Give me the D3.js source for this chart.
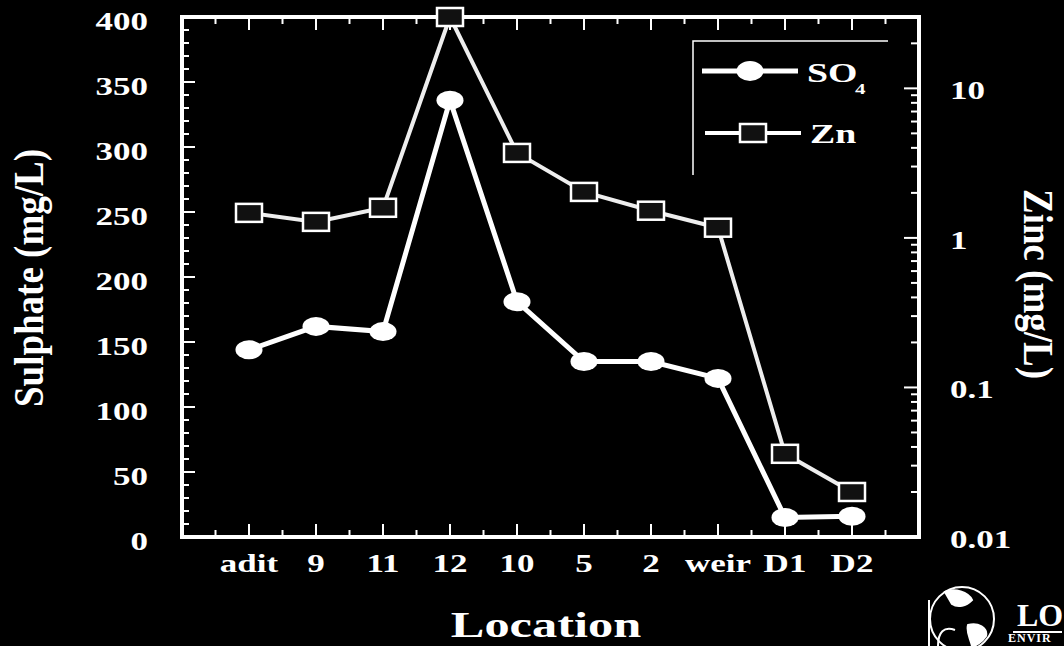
<!DOCTYPE html>
<html>
<head>
<meta charset="utf-8">
<script src="https://cdn.jsdelivr.net/npm/d3@7"></script>
<style>
  body { margin: 0; background: #000; }
  text { font-family: "Liberation Serif", "DejaVu Serif", serif; font-weight: bold; fill: #fff; }
</style>
</head>
<body>
<div id="chart-area"></div>
<script>
var locations = ["adit", "9", "11", "12", "10", "5", "2", "weir", "D1", "D2"];
var sulphate = [144, 162, 158, 336, 181, 135, 135, 122, 15, 16];
var zinc = [1.47, 1.28, 1.59, 30, 3.7, 2.03, 1.52, 1.17, 0.036, 0.02];
var leftTicks = [0, 50, 100, 150, 200, 250, 300, 350, 400];
var rightTicks = [0.01, 0.1, 1, 10];
var rightTickLabels = ["0.01", "0.1", "1", "10"];

var width = 1064, height = 646;
var plot = {left: 182, right: 919, top: 17, bottom: 537};
var stretch = 1.4;

var svg = d3.select("#chart-area")
  .append("svg")
  .attr("width", width)
  .attr("height", height)
  .style("display", "block");

svg.append("rect").attr("width", width).attr("height", height).attr("fill", "#000");

var xScale = d3.scaleLinear().domain([0, locations.length + 1]).range([plot.left, plot.right]);
var yScale = d3.scaleLinear().domain([0, 400]).range([plot.bottom, plot.top]);
var zScale = d3.scaleLog().domain([0.01, 30]).range([plot.bottom, plot.top]);

// stretched text helper (the scan is wider than tall)
function label(g, x, y, str, size, anchor) {
  return g.append("text")
    .attr("transform", "translate(" + x + "," + y + ") scale(" + stretch + ",1)")
    .attr("font-size", size + "px")
    .attr("text-anchor", anchor || "middle")
    .text(str);
}

// ticks
var ticks = svg.append("g").attr("stroke", "#fff").attr("stroke-width", 2);

d3.range(0, 401, 10).forEach(function(v) {
  var len = v % 50 == 0 ? 13 : 7;
  ticks.append("line").attr("x1", plot.left).attr("x2", plot.left + len)
    .attr("y1", yScale(v)).attr("y2", yScale(v));
});

d3.range(1, locations.length * 2 + 2).forEach(function(i) {
  var v = i / 2;
  var len = i % 2 == 0 ? 13 : 7;
  ticks.append("line").attr("x1", xScale(v)).attr("x2", xScale(v))
    .attr("y1", plot.bottom).attr("y2", plot.bottom - len);
  ticks.append("line").attr("x1", xScale(v)).attr("x2", xScale(v))
    .attr("y1", plot.top).attr("y2", plot.top + len);
});

zScale.ticks().forEach(function(v) {
  var major = rightTicks.indexOf(v) >= 0;
  var len = major ? 15 : 8;
  ticks.append("line").attr("x1", plot.right).attr("x2", plot.right - len)
    .attr("y1", zScale(v)).attr("y2", zScale(v));
});

// frame
svg.append("rect")
  .attr("x", plot.left).attr("y", plot.top)
  .attr("width", plot.right - plot.left).attr("height", plot.bottom - plot.top)
  .attr("fill", "none").attr("stroke", "#fff").attr("stroke-width", 4);

// tick labels
leftTicks.forEach(function(v) {
  label(svg, 148, yScale(v) + 13, v, 25, "end");
});
locations.forEach(function(d, i) {
  label(svg, xScale(i + 1), 572, d, 25);
});
rightTicks.forEach(function(v, i) {
  label(svg, 950, zScale(v) + 11, rightTickLabels[i], 25, "start");
});

// axis titles
label(svg, 546, 637, "Location", 36);
svg.append("text")
  .attr("transform", "translate(43,278) scale(1.15,1) rotate(-90)")
  .attr("font-size", "37px").attr("text-anchor", "middle")
  .text("Sulphate (mg/L)");
svg.append("text")
  .attr("transform", "translate(1024,284) scale(1.12,1) rotate(90)")
  .attr("font-size", "37px").attr("text-anchor", "middle")
  .text("Zinc (mg/L)");

// series
var so4Line = d3.line().x(function(d, i) { return xScale(i + 1); }).y(function(d) { return yScale(d); });
var znLine = d3.line().x(function(d, i) { return xScale(i + 1); }).y(function(d) { return zScale(d); });

svg.append("path").datum(zinc).attr("d", znLine)
  .attr("fill", "none").attr("stroke", "#eee").attr("stroke-width", 4);
svg.append("path").datum(sulphate).attr("d", so4Line)
  .attr("fill", "none").attr("stroke", "#fff").attr("stroke-width", 5);

svg.selectAll("rect.zn").data(zinc).enter().append("rect")
  .attr("class", "zn")
  .attr("x", function(d, i) { return xScale(i + 1) - 13; })
  .attr("y", function(d) { return zScale(d) - 9; })
  .attr("width", 26).attr("height", 18)
  .attr("fill", "#111").attr("stroke", "#fff").attr("stroke-width", 2.5);

svg.selectAll("ellipse.so4").data(sulphate).enter().append("ellipse")
  .attr("class", "so4")
  .attr("cx", function(d, i) { return xScale(i + 1); })
  .attr("cy", function(d) { return yScale(d); })
  .attr("rx", 13.5).attr("ry", 9.5)
  .attr("fill", "#fff");

// legend
var legend = svg.append("g");
legend.append("path").attr("d", "M693,175V41H888")
  .attr("fill", "none").attr("stroke", "#fff").attr("stroke-width", 1.5);
legend.append("line").attr("x1", 702).attr("x2", 798).attr("y1", 71).attr("y2", 71)
  .attr("stroke", "#fff").attr("stroke-width", 5);
legend.append("ellipse").attr("cx", 750).attr("cy", 71).attr("rx", 13.5).attr("ry", 10).attr("fill", "#fff");
label(legend, 807, 82, "SO", 27, "start");
label(legend, 855, 94, "4", 15, "start");
legend.append("line").attr("x1", 705).attr("x2", 801).attr("y1", 133).attr("y2", 133)
  .attr("stroke", "#fff").attr("stroke-width", 4);
legend.append("rect").attr("x", 740).attr("y", 124).attr("width", 26).attr("height", 18)
  .attr("fill", "#111").attr("stroke", "#fff").attr("stroke-width", 2.5);
label(legend, 810, 143, "Zn", 27, "start");

// logo in the corner (only its left part shows in the original)
var logo = svg.append("g").attr("fill", "none").attr("stroke", "#fff").attr("stroke-width", 2);
logo.append("circle").attr("cx", 962).attr("cy", 619).attr("r", 32);
logo.append("path").attr("d", "M929,600V646M955,630C944,626 938,632 938,646");
logo.append("path").attr("d", "M945,592C955,588 968,592 972,600C966,606 958,608 952,604Z")
  .attr("fill", "#fff");
logo.append("path").attr("d", "M968,625C978,622 988,628 986,636C982,642 976,646 972,646C970,638 966,632 968,625Z")
  .attr("fill", "#fff");
logo.append("line").attr("x1", 1013).attr("x2", 1062).attr("y1", 632).attr("y2", 632);
svg.append("text").attr("x", 1017).attr("y", 626)
  .attr("font-size", "32px").attr("font-weight", "normal").text("LO");
svg.append("text").attr("x", 1008).attr("y", 642)
  .attr("font-size", "12px").attr("font-weight", "normal").attr("letter-spacing", "1px").text("ENVIR");
</script>
</body>
</html>
